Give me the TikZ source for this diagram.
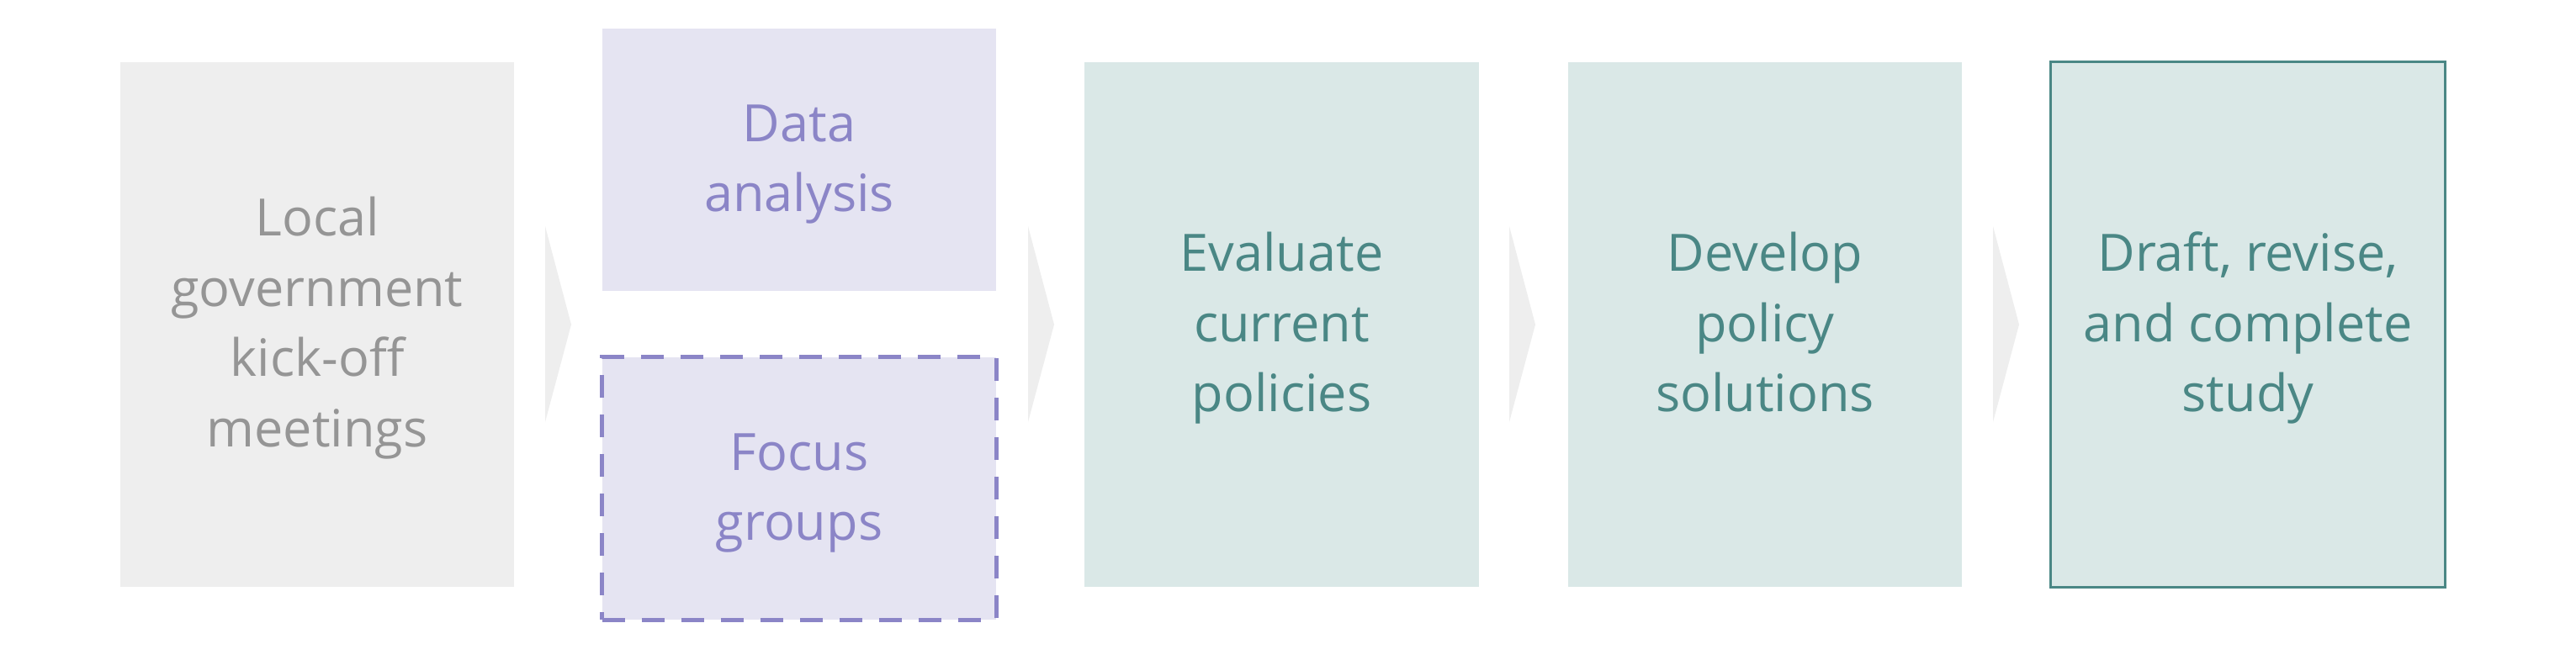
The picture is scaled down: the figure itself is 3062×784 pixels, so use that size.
\documentclass[tikz,border=0pt]{standalone}
\usepackage{fontspec}
\setmainfont{Open Sans}
\usetikzlibrary{calc}
\definecolor{grayfill}{HTML}{EEEEEE}
\definecolor{graytext}{HTML}{959595}
\definecolor{purfill}{HTML}{E5E4F2}
\definecolor{purtext}{HTML}{8B85C7}
\definecolor{tealfill}{HTML}{DAE8E7}
\definecolor{tealtext}{HTML}{4A8785}
\newcommand\firststrut{\rule{0pt}{0.57cm}}
\newcommand\laststrut{\rule[-0.17cm]{0pt}{0.17cm}}
\tikzset{
  box/.style={rectangle, inner sep=0pt, outer sep=0pt, minimum width=4.68cm,
    align=center, font=\fontsize{17.4}{23.76}\selectfont},
  tallbox/.style={box, minimum height=6.24cm},
  graybox/.style={tallbox, fill=grayfill, text=graytext},
  tealbox/.style={tallbox, fill=tealfill, text=tealtext},
  purbox/.style={box, fill=purfill, text=purtext},
  chev/.style={fill=grayfill, draw=none}
}
\begin{document}
\begin{tikzpicture}[x=0.01cm, y=-0.01cm]
\useasboundingbox (0,0) rectangle (3062,784);
\fill[white] (0,0) rectangle (3062,784);
\node[graybox] (b1) at (377,386) {\firststrut Local\\government\\kick-off\\meetings\laststrut};
\node[purbox, minimum height=3.11cm] (b2) at (950,190) {\firststrut Data\\analysis\laststrut};
\node[purbox, minimum height=3.12cm, draw=purtext, line width=1.4pt,
      dash pattern=on 0.27cm off 0.20cm] (b3) at (950,581) {\firststrut Focus\\groups\laststrut};
\node[tealbox] (b4) at (1523.5,386) {\firststrut Evaluate\\current\\policies\laststrut};
\node[tealbox] (b5) at (2098,386) {\firststrut Develop\\policy\\solutions\laststrut};
\node[tealbox, draw=tealtext, line width=0.85pt] (b6) at (2672,386) {\firststrut Draft, revise,\\and complete\\study\laststrut};
% chevrons between the steps
\foreach \xx in {648, 1222, 1794, 2369}{
  \fill[chev] (\xx,269) -- (\xx+31,386) -- (\xx,502) -- cycle;
}
\end{tikzpicture}
\end{document}
